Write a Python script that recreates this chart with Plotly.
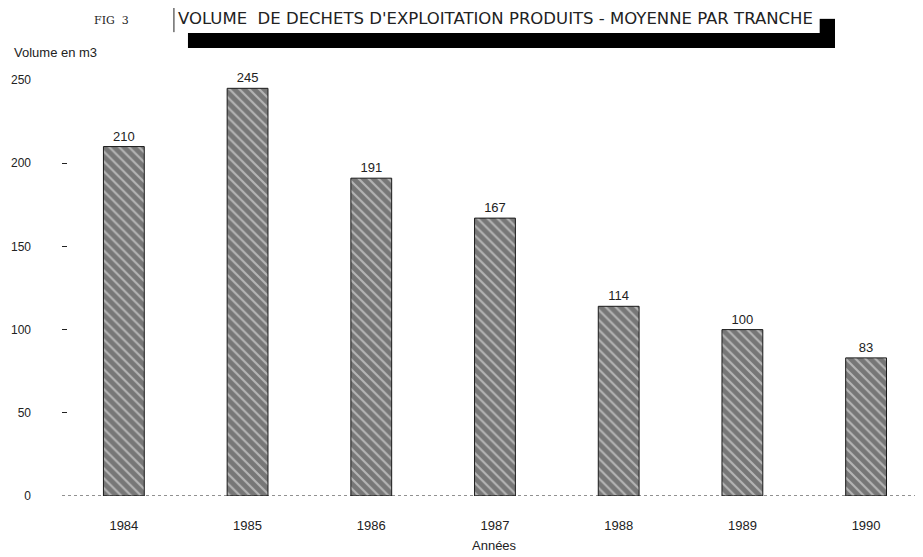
"""Volume de déchets d'exploitation produits - moyenne par tranche."""

import plotly.graph_objects as go

# Data
YEARS: list[str] = ["1984", "1985", "1986", "1987", "1988", "1989", "1990"]
VOLUMES: list[int] = [210, 245, 191, 167, 114, 100, 83]
Y_TICKS: list[int] = [0, 50, 100, 150, 200, 250]

FONT = "Liberation Sans, Arial, sans-serif"
INK = "#222222"

fig = go.Figure()

fig.add_trace(
    go.Bar(
        x=YEARS,
        y=VOLUMES,
        width=0.33,
        text=[str(v) for v in VOLUMES],
        textposition="outside",
        textfont={"size": 13, "color": INK, "family": FONT},
        cliponaxis=False,
        marker={
            "color": "#8a8a8a",
            "line": {"color": "#1a1a1a", "width": 1},
            "pattern": {
                "shape": "\\",
                "fgcolor": "#f4f4f4",
                "bgcolor": "#777777",
                "size": 7,
                "solidity": 0.3,
            },
        },
        showlegend=False,
    )
)

# dotted baseline like the scan
fig.add_shape(
    type="line", xref="paper", yref="y", x0=0, x1=1, y0=0, y1=0,
    line={"color": INK, "width": 1, "dash": "dot"},
)

# black banner under the title, rule before it and small block at the end
fig.add_shape(
    type="rect", xref="paper", yref="paper",
    x0=0.1463, x1=0.8978, y0=1.077, y1=1.113,
    fillcolor="black", line={"width": 0},
)
fig.add_shape(
    type="rect", xref="paper", yref="paper",
    x0=0.880, x1=0.8978, y0=1.113, y1=1.147,
    fillcolor="black", line={"width": 0},
)
fig.add_shape(
    type="line", xref="paper", yref="paper",
    x0=0.130, x1=0.130, y0=1.115, y1=1.18,
    line={"color": INK, "width": 1},
)

fig.add_annotation(
    text="FIG  3", xref="paper", yref="paper", x=0.058, y=1.144,
    showarrow=False, xanchor="center", yanchor="middle",
    font={"size": 11, "color": INK, "family": "DejaVu Serif, serif"},
)
fig.add_annotation(
    text="VOLUME  DE DECHETS D'EXPLOITATION PRODUITS - MOYENNE PAR TRANCHE",
    xref="paper", yref="paper", x=0.1324, y=1.149,
    showarrow=False, xanchor="left", yanchor="middle",
    font={"size": 16.5, "color": INK, "family": "DejaVu Sans, sans-serif"},
)
fig.add_annotation(
    text="Volume en m3", xref="paper", yref="paper", x=-0.058, y=1.065,
    showarrow=False, xanchor="left", yanchor="middle",
    font={"size": 13, "color": INK, "family": FONT},
)
fig.add_annotation(
    text="Années", xref="paper", yref="paper", x=0.502, y=-0.118,
    showarrow=False, xanchor="center", yanchor="middle",
    font={"size": 13, "color": INK, "family": FONT},
)

# the page body adds an 8px offset, so the figure is 8px smaller than the window
fig.update_layout(
    width=915,
    height=549,
    paper_bgcolor="white",
    plot_bgcolor="white",
    margin={"l": 54, "r": 0, "t": 72, "b": 61, "pad": 0, "autoexpand": False},
    font={"family": FONT, "size": 12, "color": INK},
    xaxis={
        "range": [-0.5, 6.46],
        "showgrid": False,
        "showline": False,
        "ticks": "",
        "tickfont": {"size": 13},
        "ticklabelstandoff": 20,
        "automargin": False,
    },
    yaxis={
        "range": [0, 250],
        "tickvals": Y_TICKS,
        "showgrid": False,
        "zeroline": False,
        "showline": False,
        "ticks": "inside",
        "ticklen": 5,
        "tickcolor": INK,
        "tickfont": {"size": 12},
        "ticklabelstandoff": 30,
        "automargin": False,
    },
)

fig.write_html("out.html")
